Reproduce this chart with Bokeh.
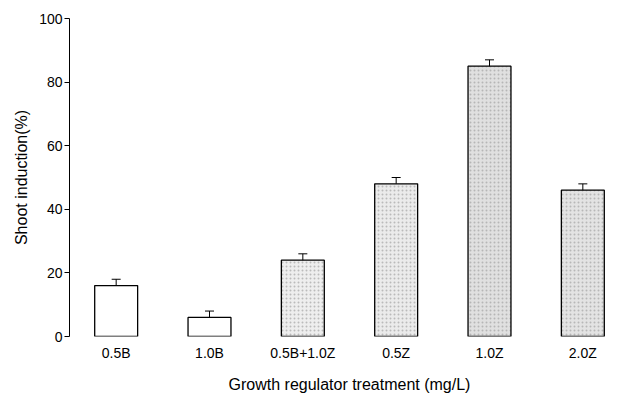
from bokeh.plotting import figure
from bokeh.models import Range1d, Whisker, ColumnDataSource, FactorRange
from bokeh.embed import file_html
from bokeh.resources import INLINE

categories = ["0.5B", "1.0B", "0.5B+1.0Z", "0.5Z", "1.0Z", "2.0Z"]
values = [16, 6, 24, 48, 85, 46]
errors = [2, 2, 2, 2, 2, 2]
fills = ["#ffffff", "#ffffff", "#eeeeee", "#ebebeb", "#e0e0e0", "#e3e3e3"]
hatches = [" ", " ", "dot", "dot", "dot", "dot"]
y_ticks = [0, 20, 40, 60, 80, 100]

src = ColumnDataSource(dict(
    cat=categories, val=values, fill=fills, hatch=hatches,
    lo=[v - e for v, e in zip(values, errors)],
    hi=[v + e for v, e in zip(values, errors)],
))

p = figure(x_range=FactorRange(*categories, range_padding=0), y_range=Range1d(0, 100),
           width=632, height=396, output_backend="svg", toolbar_location=None,
           min_border_left=69, min_border_right=3, min_border_top=18, min_border_bottom=60)
p.outline_line_color = None
p.grid.visible = False
p.background_fill_color = "white"

p.vbar(x="cat", top="val", width=0.46, source=src, fill_color="fill",
       hatch_pattern="hatch", hatch_color="#9a9a9a", hatch_scale=4, hatch_weight=1,
       hatch_alpha=0.6, line_color="black", line_width=1.3)

w = Whisker(base="cat", lower="lo", upper="hi", source=src, line_color="black",
            line_width=1)
w.upper_head.size = 9
w.lower_head.size = 9
w.upper_head.line_color = "black"
w.lower_head.line_color = "black"
p.add_layout(w)

p.yaxis.ticker = y_ticks
p.yaxis.axis_label = "Shoot induction(%)"
p.xaxis.axis_label = "Growth regulator treatment (mg/L)"
for ax in (p.xaxis, p.yaxis):
    ax.axis_label_text_font = "Liberation Sans"
    ax.axis_label_text_font_style = "normal"
    ax.axis_label_text_font_size = "16px"
    ax.major_label_text_font = "Liberation Sans"
    ax.major_label_text_font_size = "14px"
    ax.major_label_text_color = "black"
    ax.axis_label_text_color = "black"
p.yaxis.minor_tick_line_color = None
p.yaxis.major_tick_in = 0
p.yaxis.major_tick_out = 5
p.yaxis.axis_line_color = "black"
p.yaxis.major_label_standoff = 2
p.yaxis.axis_label_standoff = 6
p.xaxis.axis_line_color = None
p.xaxis.major_tick_line_color = None
p.xaxis.major_tick_out = 0
p.xaxis.major_label_standoff = 8
p.xaxis.axis_label_standoff = 12

open("out.html", "w").write(file_html(p, INLINE))
